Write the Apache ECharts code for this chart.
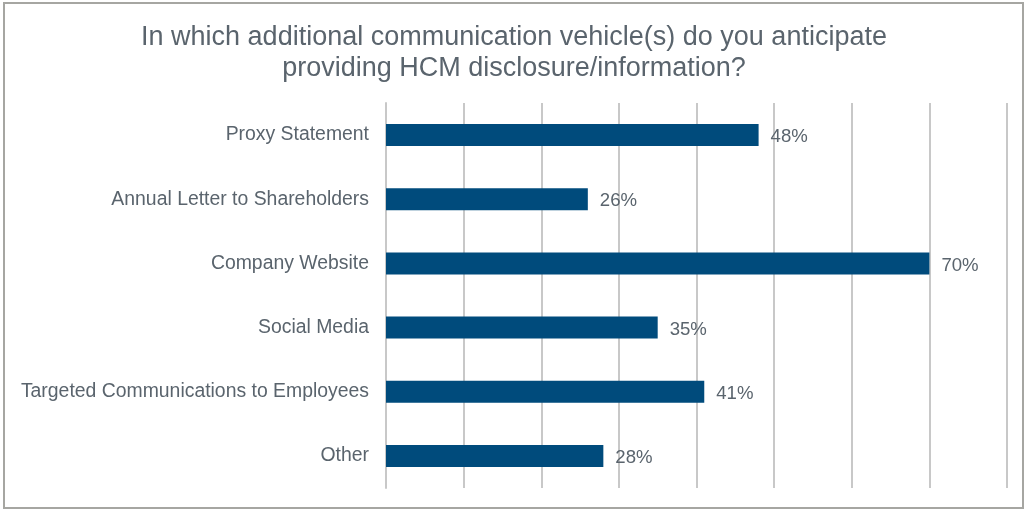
<!DOCTYPE html>
<html>
<head>
<meta charset="utf-8">
<script src="https://cdn.jsdelivr.net/npm/echarts@6/dist/echarts.min.js"></script>
<style>
  html, body { margin: 0; padding: 0; background: #ffffff; }
  #frame { position: absolute; left: 3px; top: 2px; width: 1017px; height: 503px; border: 2px solid #a6a6a2; }
  #chart { position: absolute; left: 0; top: 0; width: 1028px; height: 510px; }
</style>
</head>
<body>
<div id="frame"></div>
<div id="chart"></div>
<script>
// Survey responses: additional communication vehicles for HCM disclosure
const categories = [
  'Proxy Statement',
  'Annual Letter to Shareholders',
  'Company Website',
  'Social Media',
  'Targeted Communications to Employees',
  'Other'
];
const shares = [48, 26, 70, 35, 41, 28];
const titleLines = [
  'In which additional communication vehicle(s) do you anticipate',
  'providing HCM disclosure/information?'
];

const textColor = '#5a646d';
const fontFamily = 'Liberation Sans, Arial, sans-serif';

const chart = echarts.init(document.getElementById('chart'), null, { renderer: 'canvas' });
chart.setOption({
  animation: false,
  title: {
    text: titleLines.join('\n'),
    left: 'center',
    top: 17,
    textStyle: {
      fontFamily: fontFamily,
      fontSize: 27,
      fontWeight: 'normal',
      color: textColor,
      lineHeight: 31
    }
  },
  grid: { left: 386, right: 21, top: 103, bottom: 22, containLabel: false },
  xAxis: {
    type: 'value',
    min: 0,
    max: 80,
    interval: 10,
    axisLabel: { show: false },
    axisLine: { show: false },
    axisTick: { show: false },
    splitLine: { show: true, lineStyle: { color: '#c8c8c8', width: 2 } }
  },
  yAxis: {
    type: 'category',
    data: categories,
    inverse: true,
    axisLine: { show: true, lineStyle: { color: '#c8c8c8', width: 2 } },
    axisTick: { show: false },
    axisLabel: {
      margin: 17,
      padding: [3, 0, 0, 0],
      fontFamily: fontFamily,
      fontSize: 19.4,
      color: textColor
    }
  },
  series: [{
    type: 'bar',
    data: shares,
    barWidth: 22,
    itemStyle: { color: '#004b7c' },
    label: {
      show: true,
      position: 'right',
      distance: 12,
      offset: [0, 2],
      formatter: '{c}%',
      fontFamily: fontFamily,
      fontSize: 18.6,
      color: textColor
    }
  }]
});
</script>
</body>
</html>
